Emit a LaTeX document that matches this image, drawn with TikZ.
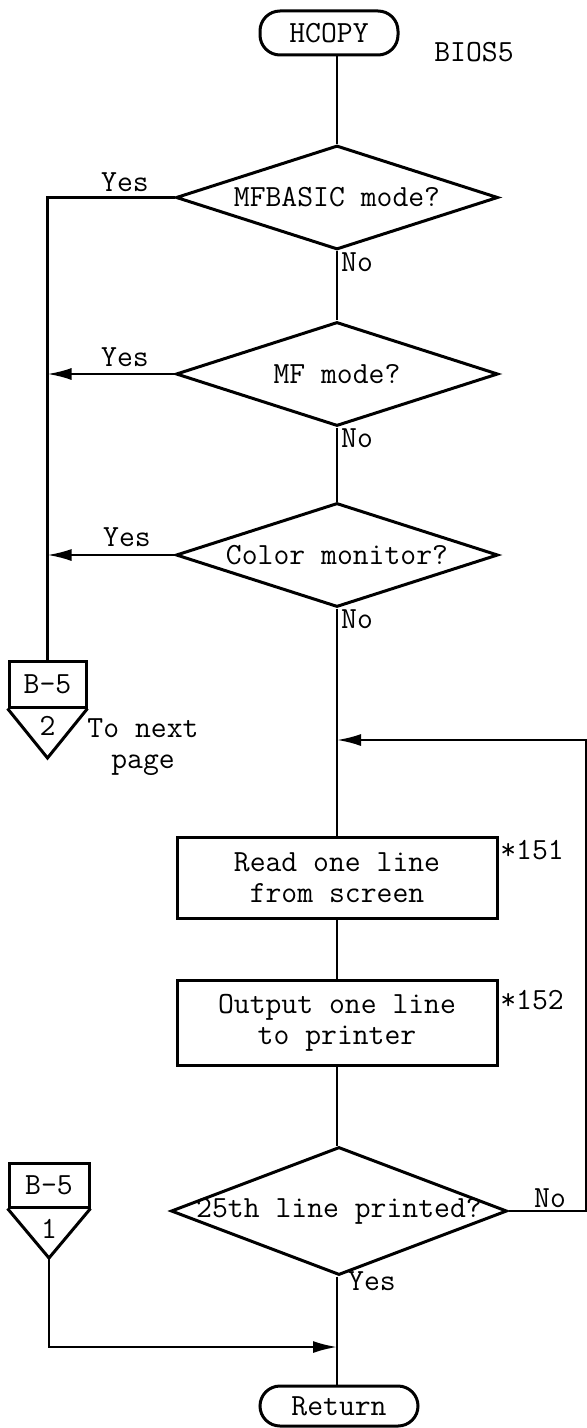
\documentclass[tikz,border=0pt]{standalone}
\usetikzlibrary{shapes.geometric,arrows.meta}
\begin{document}
\begin{tikzpicture}[x=0.5pt,y=-0.5pt,
  every node/.style={font=\fontsize{15.4}{15.5}\selectfont\ttfamily, inner sep=0pt},
  shapeline/.style={draw, line width=1.5pt},
  term/.style={shapeline, rectangle, rounded corners=10pt},
  proc/.style={shapeline, rectangle, minimum width=160pt, align=center},
  dec/.style={shapeline, diamond, minimum width=161pt, minimum height=52pt},
  conn/.style={shapeline, rectangle},
  flow/.style={line width=1.1pt},
  arr/.style={flow, -{Latex[length=12pt,width=6pt]}}]
\useasboundingbox (0,0) rectangle (587,1428);

% main column
\node[term, minimum width=69pt, minimum height=22pt] (hcopy) at (329,33) {HCOPY};
\node (bios) at (474,52) {BIOS5};
\node[dec] (d1) at (337,197.5) {\makebox[0pt]{MFBASIC mode?}};
\node[dec] (d2) at (337,374) {\makebox[0pt]{MF mode?}};
\node[dec] (d3) at (337,555) {\makebox[0pt]{Color monitor?}};
\node[proc, minimum height=40.5pt] (b1) at (337,877.5) {Read one line\\from screen};
\node[proc, minimum height=42.5pt] (b2) at (337,1022.5) {Output one line\\to printer};
\node[dec, minimum width=168pt, minimum height=64pt] (d4) at (339,1211) {\makebox[0pt]{25th line printed?}};
\node[term, minimum width=79pt, minimum height=20pt] (ret) at (339,1406) {Return};

% off-page connectors
\node[conn, minimum width=38.5pt, minimum height=23pt] (c2) at (47.5,684) {B-5};
\coordinate (c2tip) at (47.5,758);
\draw[shapeline, line join=miter] (c2.south west) -- (c2tip) -- (c2.south east);
\node (c2n) at (47.5,726) {2};
\node[align=center] (tonext) at (143,747) {To next\\page};

\node[conn, minimum width=40pt, minimum height=22pt] (c1) at (49,1185) {B-5};
\coordinate (c1tip) at (49,1258);
\draw[shapeline, line join=miter] (c1.south west) -- (c1tip) -- (c1.south east);
\node (c1n) at (49,1229) {1};

% labels
\node (y1) at (125,182) {Yes};
\node (y2) at (125,357) {Yes};
\node (y3) at (127,537) {Yes};
\node (n1) at (357,262) {No};
\node (n2) at (357,438) {No};
\node (n3) at (357,619) {No};
\node (n4) at (550,1198) {No};
\node (y4) at (372,1281) {Yes};
\node (s151) at (532,850) {*151};
\node (s152) at (532,1000) {*152};

% connectors
\draw[flow] (hcopy.south -| d1.north) -- (d1.north);
\draw[flow] (d1.south) -- (d2.north);
\draw[flow] (d2.south) -- (d3.north);
\draw[flow] (d3.south) -- (b1.north);
\draw[flow] (b1.south) -- (b2.north);
\draw[flow] (b2.south) -- (b2.south |- d4.north);
\draw[flow] (d4.south -| b2.south) -- (ret.north -| b2.south);
\draw[flow] (d1.west) -| (c2.north);
\draw[arr] (d2.west) -- (d2.west -| c2.north);
\draw[arr] (d3.west) -- (d3.west -| c2.north);
\coordinate (loopin) at (337,740);
\coordinate (rtop) at (586,740);
\draw[arr] (d4.east) -| (rtop) -- (loopin);
\coordinate (join) at (337,1347);
\draw[arr] (c1tip) |- (join);
\end{tikzpicture}
\end{document}
